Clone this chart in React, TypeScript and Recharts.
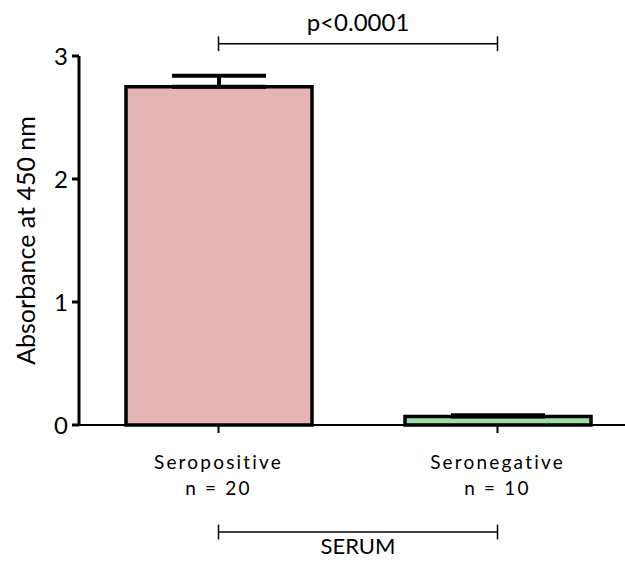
import { BarChart, Bar, XAxis, YAxis, ErrorBar, ReferenceLine, Cell } from 'recharts';

const FONT = 'Lato, "Open Sans", sans-serif';

const groups = ['Seropositive', 'Seronegative'];
const groupSizes = ['n = 20', 'n = 10'];
const means = [2.75, 0.07];
const sem = [0.09, 0.01];
const barColors = ['#E5B4B4', '#9ADFA8'];
const yTicks = [0, 1, 2, 3];
const pLabel = 'p<0.0001';
const pLevel = 3.1;
const serumLabel = 'SERUM';
const serumLevel = -0.87;
const capHalf = 0.06;

const data = groups.map((g, i) => ({
  name: g,
  mean: means[i],
  err: [0, sem[i]],
}));

// two-line category label under each bar
function GroupTick(props: any) {
  const { x, y, payload, index } = props;
  return (
    <g transform={`translate(${x},${y})`}>
      <text textAnchor="middle" fontSize={19} letterSpacing={2.2} fill="#000" fontFamily={FONT}>
        <tspan x={0} dy={34}>{payload.value}</tspan>
        <tspan x={0} dy={26}>{groupSizes[index]}</tspan>
      </text>
    </g>
  );
}

function YTitle(props: any) {
  const { viewBox } = props;
  const cx = 25;
  const cy = viewBox.y + viewBox.height / 2;
  return (
    <text
      x={cx}
      y={cy}
      transform={`rotate(-90, ${cx}, ${cy})`}
      textAnchor="middle"
      dominantBaseline="central"
      fontSize={25}
      fontFamily={FONT}
      fill="#000"
    >
      Absorbance at 450 nm
    </text>
  );
}

export default function App() {
  return (
    <div style={{ position: 'absolute', left: 0, top: 0, width: 625, height: 563, overflow: 'hidden', background: '#fff' }}>
      <BarChart width={640} height={563} data={data} margin={{ top: 56, right: 3, left: 0, bottom: 0 }}>
        <XAxis
          dataKey="name"
          height={138}
          axisLine={{ stroke: '#000', strokeWidth: 2 }}
          tickLine={{ stroke: '#000', strokeWidth: 2 }}
          tickSize={8}
          tick={<GroupTick />}
          interval={0}
        />
        <YAxis
          width={79}
          domain={[0, 3]}
          ticks={yTicks}
          axisLine={{ stroke: '#000', strokeWidth: 3 }}
          tickLine={{ stroke: '#000', strokeWidth: 3 }}
          tickSize={7}
          tickMargin={4}
          tick={{ fill: '#000', fontSize: 24, fontFamily: FONT }}
          label={{ content: <YTitle /> }}
        />
        <Bar dataKey="mean" barSize={186} stroke="#000" strokeWidth={3.5} isAnimationActive={false}>
          {data.map((d, i) => (
            <Cell key={d.name} fill={barColors[i]} />
          ))}
          <ErrorBar dataKey="err" direction="y" width={47} stroke="#000" strokeWidth={4} isAnimationActive={false} />
        </Bar>

        {/* significance bracket */}
        <ReferenceLine
          segment={[{ x: groups[0], y: pLevel }, { x: groups[1], y: pLevel }]}
          stroke="#000"
          strokeWidth={1.5}
          ifOverflow="visible"
          label={{ value: pLabel, position: 'top', offset: 13, fontSize: 24, fill: '#000', fontFamily: FONT }}
        />
        {groups.map((g) => (
          <ReferenceLine
            key={`p-${g}`}
            segment={[{ x: g, y: pLevel - capHalf }, { x: g, y: pLevel + capHalf }]}
            stroke="#000"
            strokeWidth={1.5}
            ifOverflow="visible"
          />
        ))}

        {/* group bracket */}
        <ReferenceLine
          segment={[{ x: groups[0], y: serumLevel }, { x: groups[1], y: serumLevel }]}
          stroke="#000"
          strokeWidth={1.5}
          ifOverflow="visible"
          label={{ value: serumLabel, position: 'bottom', offset: 6, fontSize: 22, fill: '#000', fontFamily: FONT }}
        />
        {groups.map((g) => (
          <ReferenceLine
            key={`s-${g}`}
            segment={[{ x: g, y: serumLevel - capHalf }, { x: g, y: serumLevel + capHalf }]}
            stroke="#000"
            strokeWidth={1.5}
            ifOverflow="visible"
          />
        ))}
      </BarChart>
    </div>
  );
}
